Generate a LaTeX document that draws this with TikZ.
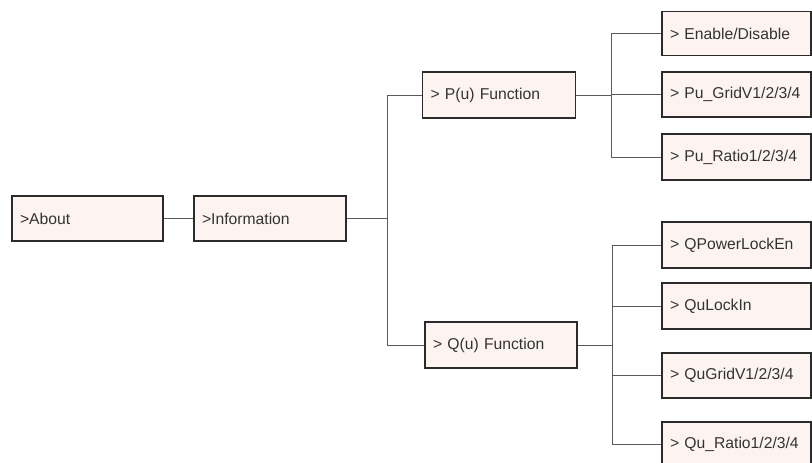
\documentclass[tikz,border=0pt]{standalone}
\usepackage{fontspec}
\setmainfont{Liberation Sans}
\definecolor{boxfill}{HTML}{FDF4F1}
\definecolor{boxdraw}{HTML}{2B2B2B}
\definecolor{linecol}{HTML}{5A5A5A}
\definecolor{textcol}{HTML}{333333}
\begin{document}
\begin{tikzpicture}[x=1pt,y=-1pt,
  menubox/.style={draw=boxdraw, line width=1.8pt, fill=boxfill, rectangle,
    inner xsep=8pt, inner ysep=0pt, minimum height=45pt, align=left,
    text=textcol, font=\fontsize{15.7}{18}\selectfont},
  conn/.style={draw=linecol, line width=1pt}]
\useasboundingbox (0,0) rectangle (812,463);
% level 1-2
\node[menubox, text width=135pt] (about) at (87.5,218.5) {>About};
\node[menubox, text width=136pt] (info) at (270,218.5) {>Information};
% level 3
\node[menubox, text width=137pt, minimum height=46pt] (pu) at (499,95) {> P(u) Function};
\node[menubox, text width=136pt, minimum height=46pt] (qu) at (501,345) {> Q(u) Function};
% level 4, P(u)
\node[menubox, text width=133pt, minimum height=44pt] (en) at (736.5,33.5) {> Enable/Disable};
\node[menubox, text width=133pt, minimum height=45pt] (pug) at (736.5,94.5) {> Pu\_GridV1/2/3/4};
\node[menubox, text width=133pt, minimum height=46pt] (pur) at (736.5,157) {> Pu\_Ratio1/2/3/4};
% level 4, Q(u)
\node[menubox, text width=133pt, minimum height=46pt] (qpl) at (736.5,245) {> QPowerLockEn};
\node[menubox, text width=133pt, minimum height=46pt] (qli) at (736.5,306) {> QuLockIn};
\node[menubox, text width=133pt, minimum height=45pt] (qgv) at (736.5,375.5) {> QuGridV1/2/3/4};
\node[menubox, text width=133pt, minimum height=45pt] (qra) at (736.5,444.5) {> Qu\_Ratio1/2/3/4};
% buses
\coordinate (b1) at (387,218.5);
\coordinate (b2) at (611,95);
\coordinate (b3) at (612,345);
% connectors
\draw[conn] (about.east) -- (info.west);
\draw[conn] (info.east) -- (b1);
\draw[conn] (pu.west) -| (b1);
\draw[conn] (qu.west) -| (b1);
\draw[conn] (pu.east) -- (b2);
\draw[conn] (en.west) -| (b2);
\draw[conn] (pug.west) -| (b2);
\draw[conn] (pur.west) -| (b2);
\draw[conn] (qu.east) -- (b3);
\draw[conn] (qpl.west) -| (b3);
\draw[conn] (qli.west) -| (b3);
\draw[conn] (qgv.west) -| (b3);
\draw[conn] (qra.west) -| (b3);
\end{tikzpicture}
\end{document}
